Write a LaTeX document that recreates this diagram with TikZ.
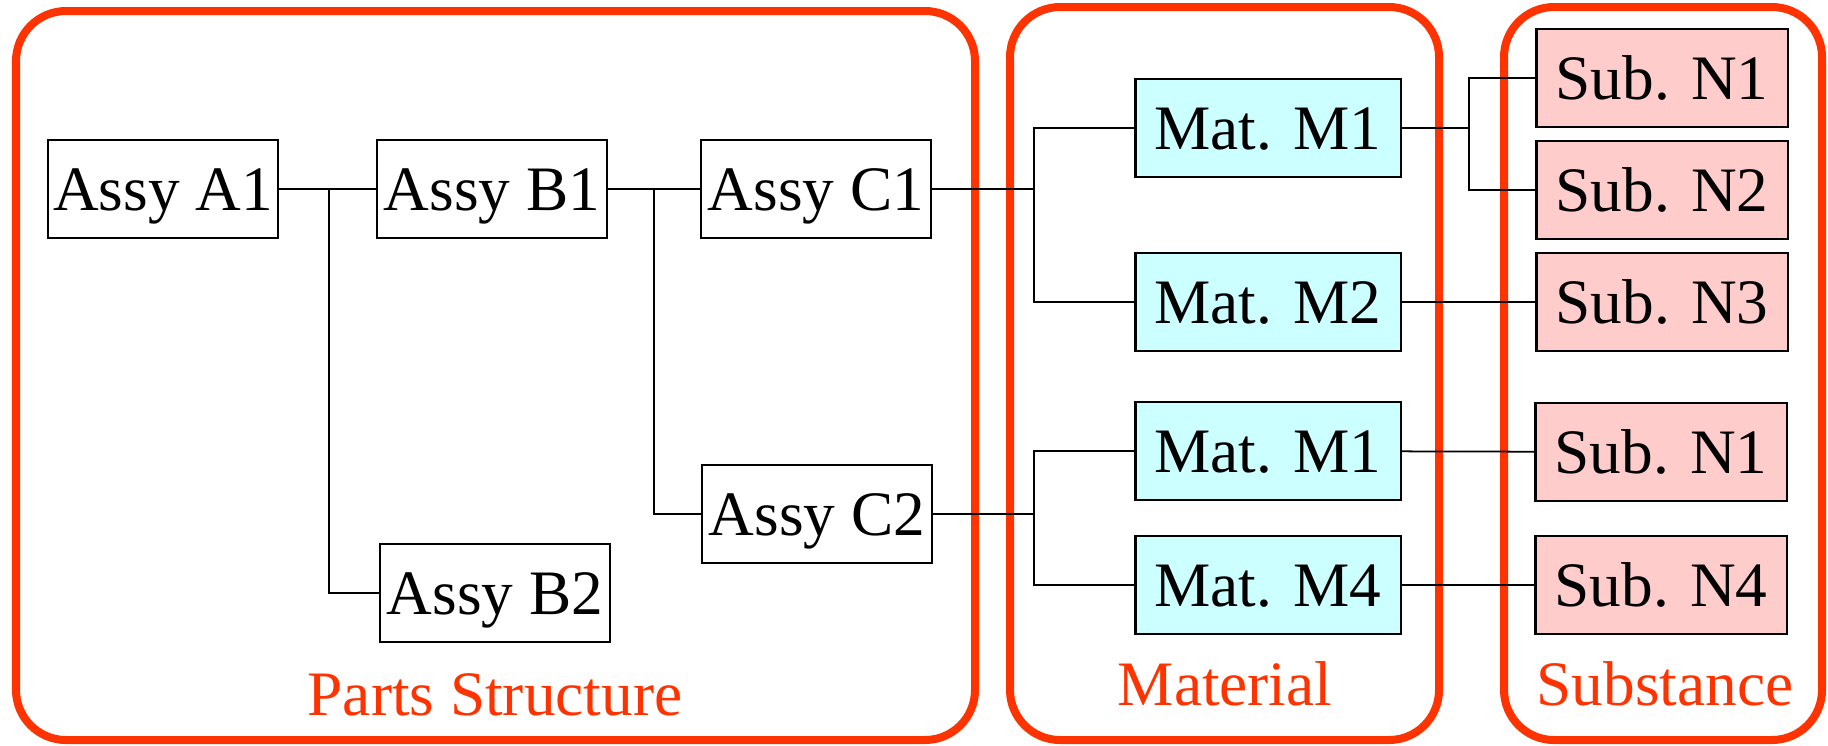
\documentclass[tikz,border=0pt]{standalone}
\usepackage{fontspec}
\setmainfont{Liberation Serif}
\usepackage{tikz}
\usepackage{xcolor}
\definecolor{framered}{HTML}{FF3300}
\definecolor{matcyan}{HTML}{CCFFFF}
\definecolor{subpink}{HTML}{FFCCCC}
\tikzstyle{assy} = [rectangle, draw, fill=white, line width=0.6pt, inner sep=0pt, minimum width=2.3cm, minimum height=0.98cm, text height=12pt, text depth=0pt, font=\fontsize{18}{20}\selectfont]
\tikzstyle{mat} = [assy, fill=matcyan, minimum width=2.65cm]
\tikzstyle{sub} = [assy, fill=subpink, minimum width=2.51cm]
\tikzstyle{group} = [draw=framered, line width=0.08cm, rounded corners=0.5cm]
\tikzstyle{grouplabel} = [anchor=base, text=framered, inner sep=0pt, font=\fontsize{18}{20}\selectfont]

\begin{document}
\begin{tikzpicture}[x=0.01cm,y=-0.01cm,line width=0.5pt]
  \useasboundingbox (0,0) rectangle (1828,745);

  % groups
  \draw[group] (16,11) rectangle (975,740);
  \draw[group] (1010,7) rectangle (1439,740);
  \draw[group] (1504,7) rectangle (1822,740);
  \node[grouplabel] (L_parts) at (495,715) {Parts Structure};
  \node[grouplabel] (L_mat) at (1225,705) {Material};
  \node[grouplabel] (L_sub) at (1665,705) {Substance};

  % parts
  \node[assy] (Assy_A1) at (163,189) {Assy A1};
  \node[assy] (Assy_B1) at (492,189) {Assy B1};
  \node[assy] (Assy_B2) at (495,593) {Assy B2};
  \node[assy] (Assy_C1) at (816,189) {Assy C1};
  \node[assy] (Assy_C2) at (817,514) {Assy C2};

  % materials
  \node[mat] (Mat_M1a) at (1268,128) {Mat. M1};
  \node[mat] (Mat_M2) at (1268,302) {Mat. M2};
  \node[mat] (Mat_M1b) at (1268,451) {Mat. M1};
  \node[mat] (Mat_M4) at (1268,585) {Mat. M4};

  % substances
  \node[sub] (Sub_N1a) at (1662,78) {Sub. N1};
  \node[sub] (Sub_N2) at (1662,190) {Sub. N2};
  \node[sub] (Sub_N3) at (1662,302) {Sub. N3};
  \node[sub] (Sub_N1b) at (1661,452) {Sub. N1};
  \node[sub] (Sub_N4) at (1661,585) {Sub. N4};

  \coordinate (J_A1) at (329,189);
  \coordinate (J_B1) at (654,189);
  \coordinate (J_C1) at (1034,189);
  \coordinate (J_C2) at (1034,514);
  \coordinate (J_M1) at (1469,128);

  \path (Assy_A1) edge (Assy_B1);
  \draw (J_A1) |- (Assy_B2.west);
  \path (Assy_B1) edge (Assy_C1);
  \draw (J_B1) |- (Assy_C2.west);
  \draw (Assy_C1.east) -- (J_C1);
  \draw (Mat_M1a.west) -| (J_C1) |- (Mat_M2.west);
  \draw (Assy_C2.east) -- (J_C2);
  \draw (Mat_M1b.west) -| (J_C2) |- (Mat_M4.west);
  \draw (Mat_M1a.east) -- (J_M1);
  \draw (Sub_N1a.west) -| (J_M1) |- (Sub_N2.west);
  \path (Mat_M2) edge (Sub_N3);
  \path (Mat_M1b) edge (Sub_N1b);
  \path (Mat_M4) edge (Sub_N4);
\end{tikzpicture}
\end{document}
